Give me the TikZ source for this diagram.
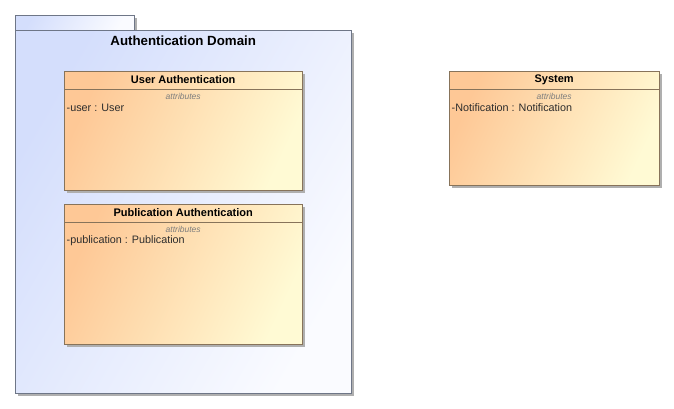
\documentclass[tikz,border=0pt]{standalone}
\usepackage{fontspec}
\setmainfont{Liberation Sans}
\usetikzlibrary{shadows}
\usetikzlibrary{positioning}
\definecolor{classleft}{RGB}{254,200,150}
\definecolor{classright}{RGB}{255,250,212}
\definecolor{classborder}{RGB}{135,115,90}
\definecolor{pkgleft}{RGB}{212,222,252}
\definecolor{pkgright}{RGB}{250,251,255}
\definecolor{pkgborder}{RGB}{110,118,135}
\definecolor{boxshadow}{RGB}{175,175,175}
\definecolor{attrgrey}{RGB}{125,125,125}
\definecolor{attrtext}{RGB}{45,45,45}
\begin{document}
\begin{tikzpicture}
[x=1pt,y=-1pt,
  pkgdecorate/.style={draw=pkgborder,shading=axis,left color=pkgleft,right color=pkgright,shading angle=60,
    anchor=north west,inner sep=0pt,
    drop shadow={shadow xshift=3pt,shadow yshift=-3pt,fill=boxshadow,opacity=1}},
  classdecorate/.style={draw=classborder,left color=classleft,right color=classright,shading angle=65,
    anchor=north west,inner sep=0pt,minimum width=238pt,
    drop shadow={shadow xshift=3pt,shadow yshift=-3pt,fill=boxshadow,opacity=1}},
  titledecorate/.style={font=\bfseries\fontsize{11}{13}\selectfont,inner sep=0pt},
  stereodecorate/.style={font=\itshape\fontsize{8.5}{10}\selectfont,text=attrgrey,inner sep=0pt},
  attrdecorate/.style={font=\fontsize{10.8}{12}\selectfont,text=attrtext,anchor=west,inner sep=0pt},
  linedecorate/.style={-,draw=classborder}]
\useasboundingbox (0,0) rectangle (674,408);
%% package
\node (pkgtab) at (15,15) [pkgdecorate,minimum width=119pt,minimum height=15pt] {};
\node (pkg) at (15,30) [pkgdecorate,minimum width=336pt,minimum height=363pt] {};
\node (pkgtitle) at ([yshift=-11pt]pkg.north) [titledecorate,font=\bfseries\fontsize{13.3}{15}\selectfont] {Authentication Domain};
%% classes
\foreach \nodename/\x/\y/\w/\h/\title/\attr in {
  userauth/64/71/238/119/User Authentication/-user : User,
  pubauth/64/204/238/140/Publication Authentication/-publication : Publication,
  system/449/71/210/114/System/-Notification : Notification}
{
  \node (\nodename) at (\x,\y) [classdecorate,minimum width=\w pt,minimum height=\h pt] {};
  \node (\nodename title) at ([yshift=-9pt]\nodename.north) [titledecorate] {\title};
  \draw[linedecorate] ([yshift=-18pt]\nodename.north west) -- ([yshift=-18pt]\nodename.north east);
  \node (\nodename stereo) at ([yshift=-25.5pt]\nodename.north) [stereodecorate] {attributes};
  \node (\nodename attr) at ([xshift=2.5pt,yshift=-37pt]\nodename.north west) [attrdecorate] {\attr};
}
\end{tikzpicture}
\end{document}
